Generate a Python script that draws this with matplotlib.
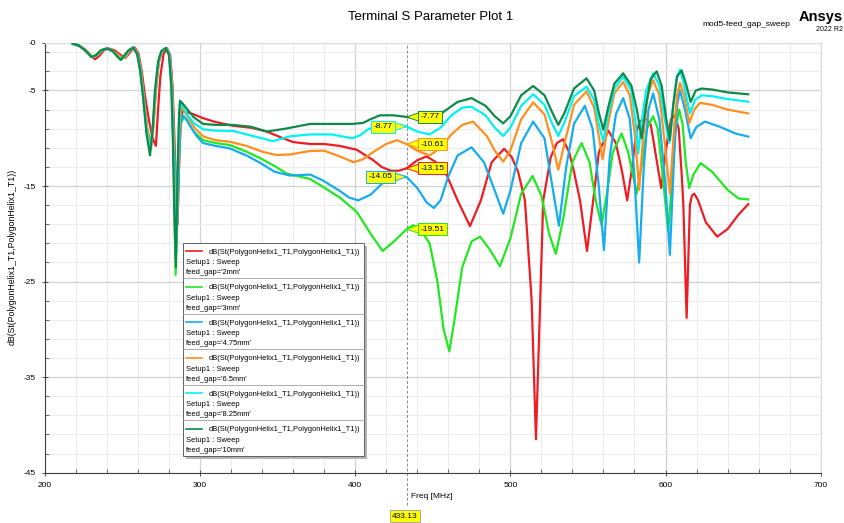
import numpy as np
import matplotlib
matplotlib.use("Agg")
import matplotlib.pyplot as plt
import matplotlib.transforms as mtransforms
from matplotlib.patches import Rectangle, Polygon
from matplotlib.lines import Line2D

plt.rcParams['font.family'] = ['Liberation Sans', 'DejaVu Sans']

# ---- data: (freq MHz, dB) ----
pts_2mm = [(218,-0.1),(222,-0.3),(226,-0.7),(229,-1.2),(232.3,-1.74),(235,-1.4),(238,-0.8),(241,-0.6),
    (245,-0.8),(249,-1.3),(251.7,-1.6),(254,-1.2),(256.5,-0.7),(258,-0.5),(260.5,-1.2),(262.5,-3.0),
    (264.5,-5.5),(267,-8.0),(269.5,-10.0),(271.6,-10.8),(273,-7.0),(274.5,-3.5),(276.5,-1.2),(278.8,-0.6),
    (280.8,-1.3),(282.3,-4.5),(283.3,-9),(284.5,-15),(285.5,-19),(286.5,-13),(287.5,-8.5),(288.5,-7.2),
    (290,-7.2),(296,-7.5),(302,-7.9),(310,-8.3),(321.5,-8.7),(333,-8.9),(343,-9.3),(352,-9.9),(360,-10.4),
    (371,-10.6),(380,-10.6),(390,-10.8),(401,-11.2),(411.7,-12.3),(417,-13.0),(423,-13.4),(428,-13.4),
    (433.13,-13.15),(440,-12.3),(446,-11.9),(452,-12.5),(459,-13.85),(466,-16.5),(474,-19.2),(481,-16.5),
    (488,-12.5),(496,-11.1),(501,-12),(505,-13.5),(509.4,-16.5),(513.7,-26.9),(516.5,-41.5),(518.6,-30.4),
    (521.2,-16.5),(526,-12),(530,-10.5),(534,-10.1),(538,-11.5),(541,-13.5),(544.9,-16.5),(549.4,-21.8),
    (553.4,-16.5),(557,-11.5),(563.1,-9.2),(568,-10.5),(572,-13.5),(575.3,-16.5),(578.5,-13),(581,-9.5),
    (583.5,-8.2),(588,-8.0),(590.5,-8.6),(594,-12),(597.2,-15.2),(600.5,-11),(603.5,-8.0),(606.1,-7.6),
    (608.5,-9),(610.5,-14),(611.5,-17),(613.6,-28.8),(615.7,-17),(617,-16),(618.5,-15.8),(621,-16.5),
    (626,-18.8),(633.3,-20.3),(640,-19.5),(647,-18.0),(653.3,-16.9)]

pts_3mm = [(218,-0.1),(222,-0.3),(226,-0.8),(230.5,-1.5),(233.5,-1.3),(236.5,-0.8),(240,-0.6),(244,-0.9),
    (247,-1.5),(249,-1.8),(251,-1.4),(254,-0.8),(257,-0.5),(259.7,-1.2),(261.7,-3.0),(263.7,-6.0),
    (265.7,-9.0),(268.5,-10.5),(270,-8.3),(271.5,-5.0),(273.3,-2.0),(275.3,-0.9),(278.3,-0.55),(280.3,-1.3),
    (281.8,-4.5),(282.8,-10),(283.6,-18),(284.3,-24.3),(285.2,-18),(286.3,-11),(287.5,-8.5),(289.7,-7.74),
    (292,-8.2),(296,-9.3),(302,-10.2),(310,-10.5),(319,-10.7),(330,-11.4),(339,-12.1),(348,-12.9),
    (356,-13.7),(371,-14.26),(379.4,-15.1),(390,-16.2),(401,-17.7),(410,-20.0),(417.7,-21.8),(425,-20.8),
    (433.13,-19.51),(437.5,-19.1),(443,-19.8),(448,-21.0),(453,-25),(457,-30),(460.7,-32.3),(464,-29),
    (469,-23.5),(475,-20.8),(480.5,-20.3),(487,-21.7),(493.3,-23.4),(500,-20.5),(507,-15.8),(514.3,-13.95),
    (520,-16),(525,-20),(529.3,-22.1),(534,-18.5),(540,-12.5),(545.9,-10.5),(551,-12.5),(555,-16.5),
    (558.8,-19.1),(562,-16),(566,-11.5),(571.7,-9.5),(576,-11.5),(581.4,-15.8),(585,-12.5),(588,-9),
    (592,-7.7),(595,-9),(598.5,-14.5),(601.7,-19.7),(604,-15),(606,-9.5),(608.8,-7.0),(611,-8.5),
    (613,-12.5),(615.3,-15.2),(618,-13.8),(622.6,-12.6),(630,-13.5),(640,-15.4),(647,-16.3),(653.3,-16.4)]

pts_4p75mm = [(218,-0.1),(222,-0.3),(226,-0.8),(230.5,-1.45),(233.5,-1.3),(236.5,-0.8),(240,-0.6),(244,-0.9),
    (247.5,-1.4),(249.5,-1.7),(251.5,-1.35),(254.5,-0.8),(257.3,-0.5),(260,-1.2),(262,-3.0),(264,-6.0),
    (266,-9.0),(268.3,-11.0),(270,-8.5),(271.5,-5.0),(273.5,-2.0),(275.5,-0.9),(278.5,-0.55),(280.5,-1.3),
    (282,-4.5),(283,-9),(284.3,-15),(285.5,-19),(286.5,-13),(287.5,-8.5),(288.8,-7.57),(291,-8.0),
    (294,-8.8),(298,-9.8),(302,-10.5),(310,-10.8),(319,-11.05),(330,-11.8),(339,-12.6),(348,-13.5),
    (358,-13.9),(371,-13.8),(379,-14.4),(390,-15.5),(396,-16.2),(402,-16.5),(410,-15.9),(417,-14.8),
    (424,-14.0),(428,-13.9),(433.13,-14.05),(440,-15.2),(446,-16.7),(450.7,-17.3),(455,-16.5),(460,-14.0),
    (466,-11.8),(475,-10.95),(483,-12.5),(490,-15.5),(495.4,-17.9),(500,-15.5),(507,-10.5),(514.7,-8.26),
    (522,-10),(526,-14),(531.3,-19.15),(536,-13),(541,-8.5),(548,-6.6),(553,-9),(557,-15),(560.3,-21.7),
    (564,-12),(568,-7.5),(572.7,-5.8),(577,-8),(580,-14),(583,-23),(586,-13),(589,-7),(592,-5.3),(596,-8),
    (600,-15),(602.8,-22.2),(605.5,-12),(607.5,-6.5),(609.3,-4.95),(612.5,-7),(616.2,-10.0),(620,-8.8),
    (625.4,-8.26),(635,-8.8),(645,-9.5),(653.3,-9.83)]

pts_6p5mm = [(218,-0.1),(222,-0.3),(226,-0.7),(231,-1.5),(234,-1.3),(237,-0.8),(240.5,-0.6),(244.5,-0.9),
    (248.5,-1.4),(251,-1.6),(253,-1.3),(255.5,-0.7),(257.5,-0.5),(260,-1.2),(262,-3.0),(264,-6.0),(266,-9.0),
    (268.5,-11.0),(270.2,-8.5),(271.7,-5.0),(273.5,-2.0),(275.5,-0.9),(278.3,-0.55),(280.4,-1.3),(282,-4.5),
    (283,-10),(284,-17),(285,-21),(286,-13),(287,-8.0),(288,-6.8),(290,-7.2),(293,-8.0),(297,-9.0),
    (302,-9.8),(310,-10.2),(319,-10.36),(330,-10.8),(340,-11.4),(349,-11.75),(358,-11.7),(371,-11.33),
    (380,-11.3),(390,-11.9),(399,-12.5),(405,-12.2),(412,-11.4),(420,-10.6),(427,-10.2),(433.13,-10.61),
    (440,-11.3),(448,-11.8),(455,-11.0),(462,-9.6),(469,-8.6),(476,-8.26),(485,-9.8),(490,-11.3),
    (495.4,-12.45),(500,-11.3),(507,-8.0),(514.7,-6.24),(522,-7.5),(527,-10.5),(530.9,-13.3),(535,-10.5),
    (541,-6.5),(549.1,-5.1),(554,-6.8),(557,-9.8),(559.5,-12.2),(563,-8.5),(567,-5.3),(572.7,-4.1),
    (577,-5.5),(580.5,-10),(583,-15.4),(585.5,-10),(588.5,-5.5),(592,-3.9),(596,-5.5),(599.5,-10.5),
    (602.8,-15.8),(605.5,-9),(607.5,-5.5),(609.3,-4.2),(612,-5.5),(615.3,-8.4),(618.5,-7.0),(622.2,-6.3),
    (630,-6.5),(640,-7.0),(653.3,-7.4)]

pts_8p25mm = [(218,-0.1),(222,-0.3),(226,-0.8),(230.5,-1.5),(233.5,-1.3),(236.5,-0.8),(240,-0.6),(244,-0.9),
    (247.5,-1.5),(249.5,-1.75),(251.5,-1.4),(254.5,-0.8),(257,-0.5),(259.7,-1.2),(261.7,-3.0),(263.7,-6.0),
    (265.7,-9.3),(268,-11.3),(269.7,-8.8),(271.2,-5.0),(273.2,-2.0),(275.2,-0.9),(278.2,-0.55),(280.2,-1.3),
    (281.7,-4.5),(282.7,-10),(283.7,-17),(284.7,-22),(285.7,-13),(286.7,-7.8),(287.5,-6.4),(289.5,-6.8),
    (292,-7.6),(296,-8.4),(302,-9.07),(310,-9.2),(321.5,-9.24),(335,-9.8),(347,-10.3),(358,-9.8),
    (371,-9.6),(385,-9.6),(398,-10.0),(403,-9.7),(409,-9.0),(420,-8.6),(428,-8.6),(433.13,-8.77),
    (440,-9.3),(448,-9.6),(455,-8.9),(462,-7.6),(469,-6.8),(475,-6.7),(484,-7.6),(490,-8.9),(495.4,-9.76),
    (500,-8.9),(507,-6.6),(514.7,-5.4),(522,-6.5),(527,-8.5),(530.9,-9.76),(535,-8.3),(541,-5.6),
    (549.1,-4.6),(554,-6.0),(557,-8.5),(559.9,-10.36),(563,-7.5),(567,-4.8),(572.7,-3.56),(578,-5.0),
    (580.8,-8.5),(582.4,-11.6),(584.2,-8.8),(587.5,-5.0),(592,-3.2),(596,-4.5),(599.5,-8.0),(602.4,-10.5),
    (605,-6.5),(607,-3.8),(609.3,-2.8),(612,-4.5),(615.7,-7.4),(619,-6.0),(623.3,-5.5),(630,-5.6),
    (640,-5.9),(653.3,-6.17)]

pts_10mm = [(218,-0.1),(222,-0.3),(226,-0.8),(230,-1.5),(233,-1.3),(236,-0.8),(240,-0.6),(244,-0.9),
    (247,-1.5),(249,-1.8),(251,-1.4),(254,-0.8),(257,-0.5),(259.5,-1.2),(261.5,-3.0),(263.5,-6.0),
    (265.5,-9.5),(267.8,-11.8),(269.5,-9.0),(271,-5.0),(273,-2.0),(275,-0.9),(278,-0.55),(280,-1.3),
    (281.5,-4.5),(282.5,-10),(283.5,-18),(284.5,-23.5),(285.5,-14),(286.5,-7.5),(287.1,-6.07),(289,-6.4),
    (292,-7.0),(296,-7.8),(302,-8.5),(310,-8.6),(321,-8.6),(333,-8.8),(343,-9.3),(355,-9.0),(371,-8.5),
    (385,-8.5),(398,-8.5),(405,-8.4),(410,-8.0),(416,-7.6),(425,-7.6),(433.13,-7.77),(440,-7.9),(447,-8.2),
    (453,-7.7),(459,-7.0),(466,-6.2),(475,-5.8),(484,-6.6),(490,-7.7),(495.4,-8.44),(500,-7.7),(507,-5.5),
    (514.7,-4.53),(522,-5.5),(527,-7.3),(530.9,-8.6),(535,-7.3),(541,-4.8),(549.1,-3.73),(554,-5.0),
    (557,-7.3),(559.9,-9.1),(563,-6.8),(567,-4.3),(572.7,-3.2),(578,-4.5),(581.5,-7.0),(584.6,-10.0),
    (587.5,-6.5),(590.5,-3.8),(594.3,-3.0),(597.5,-4.5),(600.5,-8.0),(602.8,-10.2),(605,-6.5),(607.5,-3.5),
    (610.4,-2.9),(613,-4.2),(616.2,-6.2),(619.5,-5.0),(623.3,-4.8),(630,-4.9),(640,-5.2),(653.3,-5.4)]

gap_labels = ["2mm", "3mm", "4.75mm", "6.5mm", "8.25mm", "10mm"]
series = [pts_2mm, pts_3mm, pts_4p75mm, pts_6p5mm, pts_8p25mm, pts_10mm]
colors = ["#ee1d23", "#22e822", "#14adef", "#ff8f1f", "#00f2f2", "#0e8a4a"]

marker_freq = 433.13
marker_vals = [-13.15, -19.51, -14.05, -10.61, -8.77, -7.77]
marker_side = ["right", "right", "left", "right", "left", "right"]

trace_name = "dB(St(PolygonHelix1_T1,PolygonHelix1_T1))"

W, H = 844, 523
fig = plt.figure(figsize=(W / 100, H / 100), dpi=100)
fig.patch.set_facecolor("white")

def fx(px):
    return px / W

def fy(py):
    return 1 - py / H

ax = fig.add_axes([fx(44.8), fy(472.7), fx(820.7) - fx(44.8), fy(42.7) - fy(472.7)])

for pts, col in zip(series, colors):
    arr = np.array(pts)
    ax.plot(arr[:, 0], arr[:, 1], color=col, lw=1.6, solid_joinstyle="round", zorder=3)

ax.set_xlim(200, 700)
ax.set_ylim(-45, 0)
ax.set_xticks(np.arange(200, 701, 100))
ax.set_xticks(np.arange(200, 701, 20), minor=True)
ax.set_yticks([0, -5, -15, -25, -35, -45])
ax.set_yticklabels(["-0", "-5", "-15", "-25", "-35", "-45"])
ax.set_yticks(np.arange(-45, 0, 2), minor=True)
ax.grid(which="minor", color="#ececec", lw=0.8, zorder=0)
ax.grid(which="major", color="#d2d2d2", lw=0.9, zorder=0)
ax.tick_params(which="major", direction="inout", length=5, width=0.6, labelsize=6, color="#333333", pad=4)
ax.tick_params(which="minor", direction="in", length=3, width=0.5, color="#333333")
for s in ["left", "bottom"]:
    ax.spines[s].set_color("#404040")
    ax.spines[s].set_linewidth(0.8)
for s in ["top", "right"]:
    ax.spines[s].set_color("#dcdcdc")
    ax.spines[s].set_linewidth(0.8)

# marker line
ax.axvline(marker_freq, ymin=-0.075, ymax=1, clip_on=False, color="#8a8a8a", lw=0.7,
           ls=(0, (3, 2)), zorder=2)

# marker callouts
for v, col, side in zip(marker_vals, colors, marker_side):
    base = fig.dpi_scale_trans + mtransforms.ScaledTranslation(marker_freq, v, ax.transData)
    sgn = 1 if side == "right" else -1
    tri = Polygon([(0, 0), (sgn * 0.13, 0.045), (sgn * 0.13, -0.045)], closed=True,
                  transform=base, facecolor="#ffff00", edgecolor=col, lw=0.7, zorder=6, clip_on=False)
    ax.add_patch(tri)
    toff = mtransforms.offset_copy(ax.transData, fig=fig, x=sgn * 14, y=0, units="dots")
    ax.text(marker_freq, v, f"{v:.2f}", transform=toff, ha="left" if side == "right" else "right",
            va="center", fontsize=6, zorder=7,
            bbox=dict(boxstyle="square,pad=0.3", fc="#ffff00", ec=col, lw=0.7))

# titles / labels
fig.text(fx(431), fy(17), "Terminal S Parameter Plot 1", ha="center", va="center", fontsize=9.5)
fig.text(fx(746), fy(24), "mod5-feed_gap_sweep", ha="center", va="center", fontsize=6)
fig.text(fx(821), fy(17), "Ansys", ha="center", va="center", fontsize=10.5, fontweight="bold")
fig.text(fx(829), fy(29.5), "2022 R2", ha="center", va="center", fontsize=5)
fig.text(fx(12), fy(257), trace_name, rotation=90, ha="center", va="center", fontsize=6.3)
fig.text(fx(411), fy(497), "Freq [MHz]", ha="left", va="center", fontsize=6)
fig.text(fx(405), fy(516), f"{marker_freq:.2f}", ha="center", va="center", fontsize=6,
         bbox=dict(boxstyle="square,pad=0.3", fc="#ffff00", ec="#9a9a9a", lw=0.6))

# legend box
lx0, ly0, lx1, ly1 = 183.3, 242.7, 364.3, 455.5
fig.add_artist(Rectangle((fx(lx0 + 3), fy(ly1 + 3)), fx(lx1) - fx(lx0), fy(ly0) - fy(ly1),
                         transform=fig.transFigure, fc="#b4b4b4", ec="none", zorder=4))
fig.add_artist(Rectangle((fx(lx0), fy(ly1)), fx(lx1) - fx(lx0), fy(ly0) - fy(ly1),
                         transform=fig.transFigure, fc="white", ec="#606060", lw=0.7, zorder=5))
row_h = (ly1 - ly0) / len(gap_labels)
for i, (lab, col) in enumerate(zip(gap_labels, colors)):
    top = ly0 + i * row_h
    if i > 0:
        fig.add_artist(Line2D([fx(lx0), fx(lx1)], [fy(top), fy(top)], transform=fig.transFigure,
                              color="#a0a0a0", lw=0.6, zorder=6))
    fig.add_artist(Line2D([fx(186), fx(201.5)], [fy(top + 8.5), fy(top + 8.5)], transform=fig.transFigure,
                          color=col, lw=1.2, zorder=6))
    fig.text(fx(209), fy(top + 9.5), trace_name, ha="left", va="center", fontsize=5.4, zorder=6)
    fig.text(fx(186), fy(top + 20), "Setup1 : Sweep", ha="left", va="center", fontsize=5.4, zorder=6)
    fig.text(fx(186), fy(top + 30), f"feed_gap='{lab}'", ha="left", va="center", fontsize=5.4, zorder=6)

fig.savefig("out.png", dpi=100)
